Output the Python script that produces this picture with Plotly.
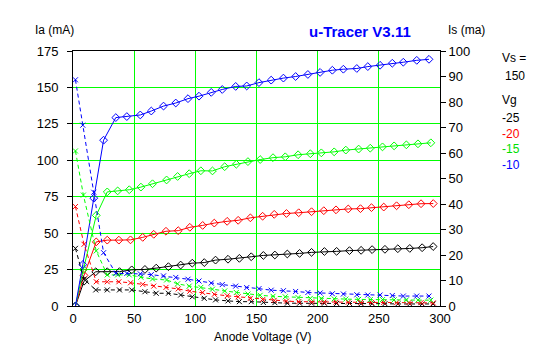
import plotly.graph_objects as go

# Anode voltages (V) per grid-voltage series
va_m25 = [2, 9, 18.6, 28, 38, 48, 58.8, 68, 78, 88, 97.5, 107.3, 116.5, 126.7, 136, 145.7, 155.6, 165, 175.2, 185.2, 195, 205.5, 215.5, 226, 235.5, 244.5, 255, 265.5, 275.3, 285.4, 294.4]
va_m20 = [2, 9, 19, 28, 37.5, 47, 57, 66, 76, 86, 95.5, 106, 115.5, 126, 135, 145, 155, 164.5, 174.5, 184.5, 195, 205, 215, 225, 235, 244, 254, 264.5, 274.5, 284.5, 294.5]
va_m15 = [2, 8.5, 19, 28, 36.5, 46, 55.5, 65, 76.5, 85.5, 95, 104.5, 114, 124, 133.5, 143, 153, 163.5, 173.5, 184, 194, 203, 213.5, 223, 233.5, 243, 253, 262.5, 272.5, 282, 292.5]
va_m10 = [2, 8, 17, 25, 35, 44, 55, 64, 74, 84, 94, 103, 113, 122, 133, 142, 152, 162, 172, 182, 192, 202, 212, 221, 232, 241, 251, 261, 270, 281, 291]

# Anode current Ia (mA), left axis
ia_m25 = [0, 17, 23.5, 23.5, 23.6, 24.8, 25.1, 26, 27, 28.1, 29.4, 29.8, 31.5, 32.1, 32.7, 33.8, 34.7, 35, 35.7, 36.1, 36.8, 37.4, 37.5, 38, 38.2, 38.7, 38.9, 39.3, 39.5, 40, 40.8]
ia_m20 = [0, 21, 44, 45.2, 45.2, 45.4, 47.1, 49.2, 51.3, 51.7, 54, 55.3, 56.9, 58.1, 58.8, 60.5, 61.6, 62.9, 63.5, 64, 64.7, 65.4, 66, 66.6, 66.8, 67.5, 67.9, 68.8, 69.5, 70.2, 70.3]
ia_m15 = [0, 25, 62.2, 78.3, 79, 79.8, 81.6, 83.9, 86.5, 88.9, 90.8, 92.8, 92.7, 95.6, 97.3, 99.1, 100.5, 101.8, 102.4, 103.8, 104.5, 105.1, 105.8, 107, 107.7, 108.3, 109.2, 109.9, 110.6, 111.3, 112]
ia_m10 = [0, 28.4, 74, 113.8, 129.3, 130, 131.1, 133.8, 137.2, 139.3, 142.3, 144, 146.6, 148.6, 150.7, 151, 153.3, 155, 156.4, 157.5, 158.9, 160.3, 161.8, 162.5, 163, 164.3, 165.2, 166.6, 167.3, 168.6, 169.3]

# Screen current Is (ma), right axis
is_m25 = [22.6, 10.5, 6.3, 6.3, 6.3, 6.3, 5.6, 5.0, 5.0, 4.3, 3.6, 3.0, 2.4, 2.0, 1.7, 1.7, 1.4, 1.3, 1.1, 1.1, 1.1, 1.1, 1.0, 1.0, 0.9, 0.9, 0.9, 0.8, 0.8, 0.8, 0.8]
is_m20 = [39.0, 24.2, 9.5, 9.5, 9.5, 9.1, 8.5, 7.8, 7.3, 6.7, 5.8, 5.3, 4.6, 4.0, 3.6, 3.0, 2.5, 2.2, 1.9, 1.7, 1.6, 1.5, 1.5, 1.5, 1.4, 1.4, 1.4, 1.3, 1.3, 1.3, 1.2]
is_m15 = [60.8, 43.5, 21.6, 12.2, 12.2, 12.2, 11.3, 10.6, 10.2, 8.7, 7.8, 7.3, 6.6, 5.9, 5.3, 4.7, 4.2, 3.8, 3.6, 3.3, 3.0, 2.9, 2.8, 2.7, 2.6, 2.5, 2.5, 2.4, 2.4, 2.3, 2.3]
is_m10 = [88.7, 70.9, 44.6, 20.9, 12.8, 12.8, 12.6, 12.3, 11.8, 11.2, 10.5, 9.8, 9.0, 8.4, 7.8, 7.2, 6.8, 6.2, 6.0, 5.7, 5.3, 5.1, 4.8, 4.7, 4.4, 4.3, 4.3, 4.1, 3.9, 3.9, 3.9]

vg_labels = ["-25", "-20", "-15", "-10"]
vg_colors = ["#000000", "#FF0000", "#00E000", "#0000FF"]
vs_value = "150"

x_ticks = [0, 50, 100, 150, 200, 250, 300]

series = [
    (va_m25, ia_m25, is_m25, "#000000"),
    (va_m20, ia_m20, is_m20, "#FF0000"),
    (va_m15, ia_m15, is_m15, "#00FF00"),
    (va_m10, ia_m10, is_m10, "#0000FF"),
]

fig = go.Figure()
for va, ia, isc, col in series:
    fig.add_trace(go.Scatter(
        x=va, y=isc, yaxis="y2", mode="lines+markers",
        line=dict(color=col, width=1, dash="4px,3px"),
        marker=dict(symbol="x-thin-open", size=5, color=col, line=dict(color=col, width=1)),
        showlegend=False, hoverinfo="skip"))
for va, ia, isc, col in series:
    fig.add_trace(go.Scatter(
        x=va, y=ia, yaxis="y", mode="lines+markers",
        line=dict(color=col, width=1),
        marker=dict(symbol="diamond-open", size=6, color=col, line=dict(color=col, width=1)),
        showlegend=False, hoverinfo="skip"))

FONT = "Liberation Sans, Arial, sans-serif"
L, R, T, B = 73, 440, 51, 306
W, H = R - L, B - T

def px(xp):
    return (xp - L) / W

def py(yp):
    return (B - yp) / H

ann = []
def txt(x, y, s, color="#000000", size=12, xanchor="left", family=FONT):
    ann.append(dict(x=px(x), y=py(y), xref="paper", yref="paper", text=s,
                    showarrow=False, xanchor=xanchor, yanchor="middle",
                    font=dict(family=family, size=size, color=color)))

txt(33, 30, "Ia (mA)", size=12)
txt(446, 30, "Is (ma)", size=12)
txt(360, 31, "<b>u-Tracer V3.11</b>", color="#0000FF", size=15, xanchor="center")
txt(500, 58, "Vs =", size=12)
txt(503, 76, vs_value, size=12)
txt(500, 100, "Vg", size=12)
for i, (lab, c) in enumerate(zip(vg_labels, vg_colors)):
    txt(500, 118 + i * 15.6, lab, color=c, size=12)
txt(262, 337, "Anode Voltage (V)", size=12, xanchor="center")

fig.update_layout(
    template="none",
    width=547, height=357, autosize=False,
    margin=dict(l=L, r=547 - R, t=T, b=357 - B, pad=0),
    paper_bgcolor="white", plot_bgcolor="white",
    font=dict(family=FONT, size=13, color="black"),
    showlegend=False,
    xaxis=dict(range=[0, 300], tickvals=x_ticks, showgrid=True, gridcolor="#00FF00", gridwidth=1,
               showline=True, linecolor="black", linewidth=1, mirror=True, ticks="",
               zeroline=False, tickfont=dict(size=13), automargin=False),
    yaxis=dict(range=[0, 175], dtick=25, showgrid=True, gridcolor="#00FF00", gridwidth=1,
               showline=True, linecolor="black", linewidth=1, ticks="outside", ticklen=5,
               tickcolor="black", zeroline=False, tickfont=dict(size=13), ticklabelstandoff=6,
               automargin=False),
    yaxis2=dict(range=[0, 100], dtick=10, overlaying="y", side="right", showgrid=False,
                showline=True, linecolor="black", linewidth=1, ticks="outside", ticklen=5,
                tickcolor="black", zeroline=False, tickfont=dict(size=13), automargin=False),
    annotations=ann,
)

fig.write_html("out.html", config={"displayModeBar": False, "staticPlot": True},
               post_script="document.body.style.margin='0';document.body.style.overflow='hidden';")
